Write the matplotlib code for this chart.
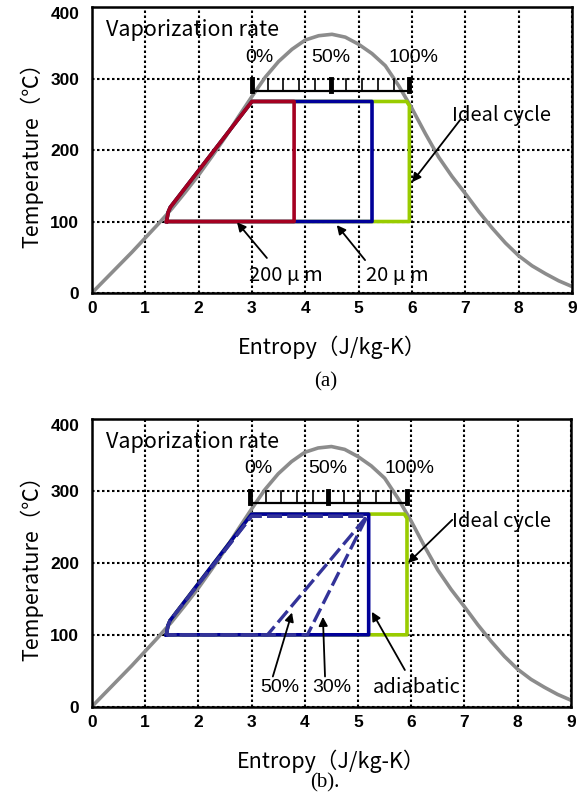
import numpy as np
import matplotlib
matplotlib.use("Agg")
import matplotlib.pyplot as plt

plt.rcParams['font.family'] = ['Noto Sans CJK JP', 'DejaVu Sans']

# saturation dome (entropy, temperature)
dome_s = np.arange(0, 9.01, 0.25)
dome_T = [0, 19, 38, 57, 77, 97, 118, 141, 165, 191, 218, 247, 275,
          302, 324, 341, 354, 360, 362, 358, 348, 335, 318, 290, 258,
          223, 190, 163, 139, 114, 91, 70, 52, 38, 27, 17, 9]

# (a) droplet size
a_ideal_s = [1.40, 1.43, 1.47, 3.00, 5.90, 5.95, 5.95, 1.40]
a_ideal_T = [100, 113, 120, 268, 268, 262, 100, 100]
a_20um_s = [1.40, 1.43, 1.47, 3.00, 5.25, 5.25, 1.40]
a_20um_T = [100, 113, 120, 268, 268, 100, 100]
a_200um_s = [1.40, 1.43, 1.47, 3.00, 3.79, 3.79, 1.40]
a_200um_T = [100, 113, 120, 268, 268, 100, 100]

# (b) vaporization rate during expansion
b_ideal_s = [1.40, 1.43, 1.47, 3.00, 5.87, 5.92, 5.92, 1.40]
b_ideal_T = [100, 113, 120, 268, 268, 262, 100, 100]
b_adia_s = [1.40, 1.43, 1.47, 3.00, 5.20, 5.20, 1.40]
b_adia_T = [100, 113, 120, 268, 268, 100, 100]
b_r50_s = [1.40, 1.43, 1.47, 3.00, 5.17, 3.30, 1.40]
b_r50_T = [100, 113, 120, 265, 265, 100, 100]
b_r30_s = [1.40, 1.43, 1.47, 3.00, 5.17, 4.05, 1.40]
b_r30_T = [100, 113, 120, 265, 265, 100, 100]

x_ticks = list(range(0, 10))
y_ticks = [0, 100, 200, 300, 400]
rate_labels = ['0%', '50%', '100%']

GRAY = '#8c8c8c'
GREEN = '#99cc00'
NAVY = '#000099'
RED = '#a50021'
DASH = '#333399'

fig = plt.figure(figsize=(5.85, 7.94), dpi=100)
ax_a = fig.add_axes([0.157, 0.631, 0.821, 0.360])
ax_b = fig.add_axes([0.157, 0.110, 0.819, 0.362])


def setup(ax):
    ax.set_xlim(0, 9)
    ax.set_ylim(0, 400)
    ax.set_xticks(x_ticks)
    ax.set_yticks(y_ticks)
    ax.set_xticklabels([str(v) for v in x_ticks], family='Liberation Sans',
                       fontweight='bold', fontsize=12.5)
    ax.set_yticklabels([str(v) for v in y_ticks], family='Liberation Sans',
                       fontweight='bold', fontsize=12.5)
    ax.get_yticklabels()[-1].set_va('top')
    ax.tick_params(axis='x', length=0, pad=6)
    ax.tick_params(axis='y', length=0, pad=9)
    ax.grid(True, color='black', linestyle=(0, (1.2, 1.2)), linewidth=1.5)
    ax.set_axisbelow(True)
    for sp in ax.spines.values():
        sp.set_linewidth(1.8)
    ax.set_xlabel('Entropy（J/kg-K）', fontsize=15.5, labelpad=14)
    ax.set_ylabel('Temperature（℃）', fontsize=15.5, labelpad=5)
    ax.plot(dome_s, dome_T, color=GRAY, lw=2.6, zorder=2)


def rate_scale(ax, s0, s1, y_bar, label_x, label_y):
    ax.plot([s0, s1], [y_bar, y_bar], color='black', lw=1.6, zorder=4)
    for k, s in enumerate(np.linspace(s0, s1, 11)):
        lw = 3.5 if k in (0, 5, 10) else 1.2
        ax.plot([s, s], [y_bar, 300], color='black', lw=lw, zorder=4)
    for x, t in zip(label_x, rate_labels):
        ax.text(x, label_y, t, ha='center', va='center', fontsize=14,
                family='Liberation Sans', zorder=5)
    ax.text(0.27, 368, 'Vaporization rate', fontsize=15.5, va='center', zorder=5)


def arrow(ax, tail, tip):
    ax.annotate('', xy=tip, xytext=tail,
                arrowprops=dict(arrowstyle='-|>', color='black', lw=1.3,
                                mutation_scale=13, shrinkA=0, shrinkB=0),
                zorder=6)


# ---- (a) ----
setup(ax_a)
ax_a.plot(a_ideal_s, a_ideal_T, color=GREEN, lw=2.6, zorder=3)
ax_a.plot(a_20um_s, a_20um_T, color=NAVY, lw=2.6, zorder=3)
ax_a.plot(a_200um_s, a_200um_T, color=RED, lw=2.6, zorder=3)
rate_scale(ax_a, 3.0, 5.95, 282, [3.13, 4.48, 6.03], 330)

ax_a.text(6.75, 249, 'Ideal cycle', fontsize=14.5, va='center')
arrow(ax_a, (6.9, 242), (6.0, 155))
ax_a.text(3.64, 25, '200 μ m', fontsize=14.5, ha='center', va='center')
arrow(ax_a, (3.28, 49), (2.72, 99))
ax_a.text(5.72, 25, '20 μ m', fontsize=14.5, ha='center', va='center')
arrow(ax_a, (5.12, 46), (4.59, 95))

# ---- (b) ----
setup(ax_b)
ax_b.plot(b_ideal_s, b_ideal_T, color=GREEN, lw=2.6, zorder=3)
ax_b.plot(b_adia_s, b_adia_T, color=NAVY, lw=2.6, zorder=3)
ax_b.plot(b_r50_s, b_r50_T, color=DASH, lw=2.4, ls=(0, (4.5, 1.6)), zorder=3)
ax_b.plot(b_r30_s, b_r30_T, color=DASH, lw=2.4, ls=(0, (4.5, 1.6)), zorder=3)
rate_scale(ax_b, 2.97, 5.92, 283, [3.12, 4.44, 5.97], 332)

ax_b.text(6.77, 257, 'Ideal cycle', fontsize=14.5, va='center')
arrow(ax_b, (6.77, 260), (5.94, 200))
ax_b.text(6.1, 26, 'adiabatic', fontsize=14.5, ha='center', va='center')
arrow(ax_b, (5.88, 51), (5.26, 132))
ax_b.text(3.53, 26, '50%', fontsize=14, ha='center', va='center',
          family='Liberation Sans')
arrow(ax_b, (3.4, 42), (3.76, 131))
ax_b.text(4.51, 26, '30%', fontsize=14, ha='center', va='center',
          family='Liberation Sans')
arrow(ax_b, (4.38, 42), (4.34, 125))

fig.text(0.556, 1 - 382 / 794, '(a)', family='Liberation Serif', fontsize=15,
         ha='center', va='center')
fig.text(0.556, 1 - 783 / 794, '(b).', family='Liberation Serif', fontsize=15,
         ha='center', va='center')

fig.savefig('out.png', dpi=100)
